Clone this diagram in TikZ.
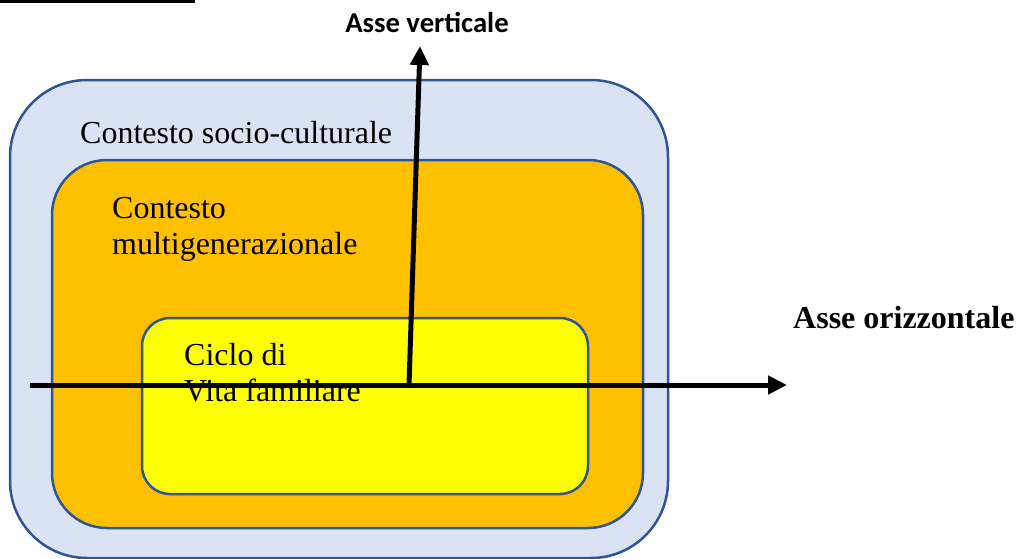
\documentclass[tikz,border=0pt]{standalone}
\usepackage{fontspec}
\setmainfont{Liberation Serif}
\newfontfamily\calibri{Carlito}
\usetikzlibrary{arrows.meta}
\definecolor{edgeblue}{HTML}{2F5597}
\definecolor{paleblue}{HTML}{DAE3F3}
\definecolor{amber}{HTML}{FFC000}
\definecolor{brightyellow}{HTML}{FFFF00}
\tikzset{
  box/.style={draw=edgeblue, line width=2.5pt, inner sep=0pt, rectangle},
  lbl/.style={inner sep=0pt, font=\fontsize{32}{36}\selectfont, align=left},
  axis/.style={line width=5pt, -{Triangle[length=19pt,width=18pt]}},
}
\begin{document}
\begin{tikzpicture}[x=1pt,y=-1pt]
\useasboundingbox (0,0) rectangle (1017,558);
\fill[white] (0,0) rectangle (1017,558);
% top-left rule
\coordinate (rulea) at (0,1.5);
\coordinate (ruleb) at (195,1.5);
\draw[line width=3pt] (rulea) -- (ruleb);
% nested contexts
\node[box, fill=paleblue, rounded corners=77pt, minimum width=658pt, minimum height=478pt] (outer) at (339,319) {};
\node[box, fill=amber, rounded corners=55pt, minimum width=591pt, minimum height=368pt] (middle) at (347.5,344) {};
\node[box, fill=brightyellow, rounded corners=28pt, minimum width=446pt, minimum height=176pt] (inner) at (365,406) {};
% labels
\node[lbl, anchor=base west] (socio) at (80,143) {Contesto socio-culturale};
\node[lbl, anchor=north west] (multi) at (112,197) {Contesto\\multigenerazionale};
\node[lbl, anchor=north west] (ciclo) at (184,343) {Ciclo di\\Vita familiare};
% axes
\coordinate (hstart) at (30,385);
\coordinate (hend) at (787,385);
\coordinate (vbase) at (409,385);
\coordinate (vtip) at (420,46);
\draw[axis] (hstart) -- (hend);
\draw[axis] (vbase) -- (vtip);
\node[inner sep=0pt, anchor=base, font=\calibri\bfseries\fontsize{28.7}{32}\selectfont] (vlabel) at (427,32) {Asse verticale};
\node[inner sep=0pt, anchor=base west, font=\bfseries\fontsize{32}{35}\selectfont] (hlabel) at (793,328) {Asse orizzontale};
\end{tikzpicture}
\end{document}
